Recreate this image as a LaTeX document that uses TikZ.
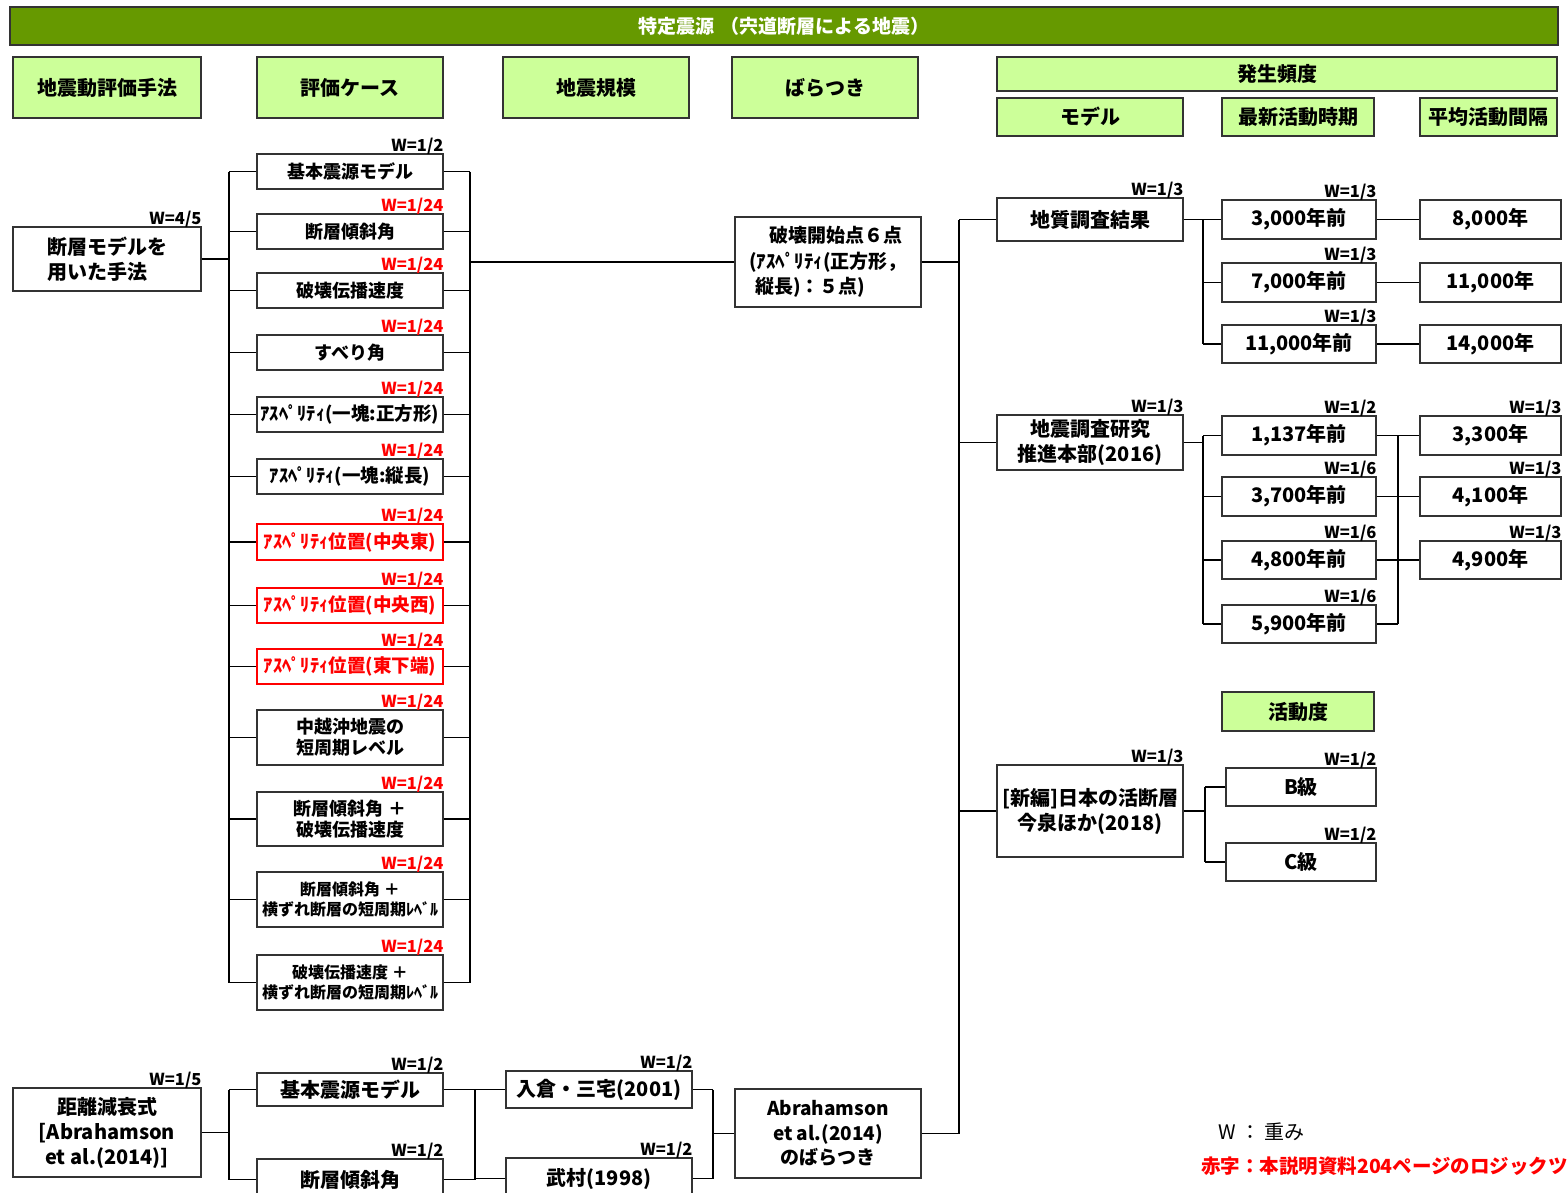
\documentclass[tikz,border=0pt]{standalone}
\usepackage{fontspec}
\setmainfont{Noto Sans CJK JP}
\definecolor{barg}{RGB}{102,153,0}
\definecolor{hdrg}{RGB}{204,255,153}
\newcommand\mybox[7]{\node[#1,minimum width={(#5-#3)*1pt},minimum height={(#6-#4)*1pt}] (#2) at ({(#3+#5)/2},{(#4+#6)/2}) {#7};}
\newcommand\wt[4]{\node[#1] (#2) at ([yshift=1.5pt]#3.north east) {#4};}
\tikzset{
 sbase/.style={draw=black!80, line width=1.2pt, inner sep=1pt, align=center},
 sbar/.style={sbase, fill=barg, text=white, font=\bfseries\fontsize{19}{22}\selectfont},
 shdr/.style={sbase, fill=hdrg, font=\bfseries\fontsize{20}{24}\selectfont},
 sbx/.style={sbase, fill=white, font=\bfseries\fontsize{18}{21}\selectfont},
 sbxl/.style={sbase, fill=white, font=\bfseries\fontsize{20}{25}\selectfont},
 srbx/.style={sbx, draw=red, text=red},
 sasp/.style={font=\bfseries\fontsize{18.5}{21}\selectfont},
 sbxs/.style={sbase, fill=white, font=\bfseries\fontsize{16}{20}\selectfont},
 swl/.style={anchor=base east, inner sep=0pt, font=\bfseries\fontsize{16.5}{18}\selectfont},
 swr/.style={swl, text=red},
 conn/.style={line width=1.5pt, black},
}
\begin{document}
\begin{tikzpicture}[x=1pt,y=-1pt]
\useasboundingbox (0,0) rectangle (1568,1192);
\clip (0,0) rectangle (1568,1192);
% title and headers
\mybox{sbar}{title}{10}{7}{1558}{45}{特定震源\hspace{6pt}（宍道断層による地震）}
\mybox{shdr}{h1}{13}{57}{201}{118}{地震動評価手法}
\mybox{shdr}{h2}{257}{57}{443}{118}{評価ケース}
\mybox{shdr}{h3}{503}{57}{689}{118}{地震規模}
\mybox{shdr}{h4}{732}{57}{918}{118}{ばらつき}
\mybox{shdr}{h5}{997}{57}{1557}{91}{発生頻度}
\mybox{shdr}{h6}{997}{98}{1183}{136}{モデル}
\mybox{shdr}{h7}{1222}{98}{1374}{136}{最新活動時期}
\mybox{shdr}{h8}{1420}{98}{1557}{136}{平均活動間隔}
\mybox{shdr}{h9}{1222}{692}{1374}{731}{活動度}
% left method
\mybox{sbxl,align=left}{m1}{13}{227}{201}{291}{断層モデルを\\用いた手法}
\wt{swl}{wm1}{m1}{W=4/5}
% cases
\mybox{sbx}{c1}{257}{154}{443}{189}{基本震源モデル}
\mybox{sbx}{c2}{257}{214}{443}{249}{断層傾斜角}
\mybox{sbx}{c3}{257}{273}{443}{308}{破壊伝播速度}
\mybox{sbx}{c4}{257}{335}{443}{370}{すべり角}
\mybox{sbx,sasp}{c5}{257}{397}{443}{432}{ｱｽﾍﾟﾘﾃｨ(一塊:正方形)}
\mybox{sbx,sasp}{c6}{257}{459}{443}{494}{ｱｽﾍﾟﾘﾃｨ(一塊:縦長)}
\mybox{srbx,sasp}{c7}{257}{524}{443}{560}{ｱｽﾍﾟﾘﾃｨ位置(中央東)}
\mybox{srbx,sasp}{c8}{257}{588}{443}{623}{ｱｽﾍﾟﾘﾃｨ位置(中央西)}
\mybox{srbx,sasp}{c9}{257}{649}{443}{684}{ｱｽﾍﾟﾘﾃｨ位置(東下端)}
\mybox{sbx}{c10}{257}{710}{443}{765}{中越沖地震の\\短周期レベル}
\mybox{sbx}{c11}{257}{792}{443}{846}{断層傾斜角 ＋\\破壊伝播速度}
\mybox{sbxs}{c12}{257}{872}{443}{927}{断層傾斜角 ＋\\横ずれ断層の短周期ﾚﾍﾞﾙ}
\mybox{sbxs}{c13}{257}{955}{443}{1010}{破壊伝播速度 ＋\\横ずれ断層の短周期ﾚﾍﾞﾙ}
\wt{swl}{wc1}{c1}{W=1/2}
\foreach \i in {2,...,13}{\wt{swr}{wc\i}{c\i}{W=1/24}}
% rupture start
\mybox{sbase,fill=white,font=\bfseries\fontsize{19}{25.5}\selectfont,align=left}{b1}{735}{217}{921}{307}{\hspace{20pt}破壊開始点６点\\(ｱｽﾍﾟﾘﾃｨ(正方形，\\\hspace{6pt}縦長)：５点)}
% models
\mybox{sbxl}{r1}{997}{198}{1183}{241}{地質調査結果}
\mybox{sbxl}{r2}{997}{415}{1183}{470}{地震調査研究\\推進本部(2016)}
\mybox{sbxl}{r3}{997}{765}{1183}{857}{[新編]日本の活断層\\今泉ほか(2018)}
\wt{swl}{wr1}{r1}{W=1/3}
\wt{swl}{wr2}{r2}{W=1/3}
\wt{swl}{wr3}{r3}{W=1/3}
% latest activity
\mybox{sbxl}{t1}{1222}{200}{1376}{239}{3,000年前}
\mybox{sbxl}{t2}{1222}{263}{1376}{302}{7,000年前}
\mybox{sbxl}{t3}{1222}{325}{1376}{363}{11,000年前}
\mybox{sbxl}{t4}{1222}{416}{1376}{455}{1,137年前}
\mybox{sbxl}{t5}{1222}{477}{1376}{516}{3,700年前}
\mybox{sbxl}{t6}{1222}{541}{1376}{579}{4,800年前}
\mybox{sbxl}{t7}{1222}{605}{1376}{643}{5,900年前}
\wt{swl}{wt1}{t1}{W=1/3}
\wt{swl}{wt2}{t2}{W=1/3}
\wt{swl}{wt3}{t3}{W=1/3}
\wt{swl}{wt4}{t4}{W=1/2}
\wt{swl}{wt5}{t5}{W=1/6}
\wt{swl}{wt6}{t6}{W=1/6}
\wt{swl}{wt7}{t7}{W=1/6}
% intervals
\mybox{sbxl}{a1}{1420}{200}{1561}{239}{8,000年}
\mybox{sbxl}{a2}{1420}{263}{1561}{302}{11,000年}
\mybox{sbxl}{a3}{1420}{325}{1561}{363}{14,000年}
\mybox{sbxl}{a4}{1420}{416}{1561}{455}{3,300年}
\mybox{sbxl}{a5}{1420}{477}{1561}{516}{4,100年}
\mybox{sbxl}{a6}{1420}{541}{1561}{579}{4,900年}
\wt{swl}{wa4}{a4}{W=1/3}
\wt{swl}{wa5}{a5}{W=1/3}
\wt{swl}{wa6}{a6}{W=1/3}
% activity class
\mybox{sbxl}{k1}{1226}{768}{1376}{806}{B級}
\mybox{sbxl}{k2}{1226}{843}{1376}{881}{C級}
\wt{swl}{wk1}{k1}{W=1/2}
\wt{swl}{wk2}{k2}{W=1/2}
% bottom branch
\mybox{sbxl}{g1}{13}{1088}{201}{1177}{距離減衰式\\{[}Abrahamson\\ et al.(2014)]}
\mybox{sbxl}{g2}{257}{1073}{443}{1106}{基本震源モデル}
\mybox{sbxl}{g3}{257}{1159}{443}{1200}{断層傾斜角}
\mybox{sbxl}{g4}{506}{1071}{692}{1108}{入倉・三宅(2001)}
\mybox{sbxl}{g5}{506}{1158}{692}{1199}{武村(1998)}
\mybox{sbase,fill=white,font=\bfseries\fontsize{19}{24.5}\selectfont}{g6}{735}{1089}{921}{1178}{Abrahamson\\et al.(2014)\\のばらつき}
\wt{swl}{wg1}{g1}{W=1/5}
\wt{swl}{wg2}{g2}{W=1/2}
\wt{swl}{wg3}{g3}{W=1/2}
\wt{swl}{wg4}{g4}{W=1/2}
\wt{swl}{wg5}{g5}{W=1/2}
% legend
\node[anchor=west, font=\fontsize{20}{24}\selectfont, inner sep=0pt] (leg1) at (1218,1132) {W ： 重み};
\node[anchor=west, text=red, font=\bfseries\fontsize{19.5}{24}\selectfont, inner sep=0pt] (leg2) at (1201,1166) {赤字：本説明資料204ページのロジックツ};
% bus coordinates
\coordinate (busL) at (229,0);
\coordinate (busR) at (470,0);
\coordinate (busM) at (959,0);
\coordinate (busA) at (1203,0);
\coordinate (busB) at (1398,0);
\coordinate (busC) at (1205,0);
\coordinate (busG2) at (475,0);
\coordinate (busG3) at (713,0);
% connectors: cases
\draw[conn] (m1.east) -- (m1.east -| busL);
\foreach \i in {1,...,13}{
 \draw[conn] (c\i.west) -- (c\i.west -| busL);
 \draw[conn] (c\i.east) -- (c\i.east -| busR);
}
\draw[conn] (c1.west -| busL) -- (c13.west -| busL);
\draw[conn] (c1.east -| busR) -- (c13.east -| busR);
\draw[conn] (b1.west -| busR) -- (b1.west);
\draw[conn] (b1.east) -- (b1.east -| busM);
% model bus
\draw[conn] (r1.west) -- (r1.west -| busM);
\draw[conn] (r2.west) -- (r2.west -| busM);
\draw[conn] (r3.west) -- (r3.west -| busM);
\draw[conn] (g6.east) -- (g6.east -| busM);
\draw[conn] (r1.west -| busM) -- (g6.east -| busM);
% group A
\draw[conn] (r1.east) -- (r1.east -| busA);
\foreach \i in {1,2,3}{\draw[conn] (t\i.west) -- (t\i.west -| busA);}
\draw[conn] (t1.west -| busA) -- (t3.west -| busA);
\draw[conn] (t1.east) -- (a1.west);
\draw[conn] (t2.east) -- (a2.west);
\draw[conn] (t3.east) -- (a3.west);
% group B
\draw[conn] (r2.east) -- (r2.east -| busA);
\foreach \i in {4,5,6,7}{
 \draw[conn] (t\i.west) -- (t\i.west -| busA);
 \draw[conn] (t\i.east) -- (t\i.east -| busB);
}
\draw[conn] (t4.west -| busA) -- (t7.west -| busA);
\draw[conn] (t4.east -| busB) -- (t7.east -| busB);
\foreach \i in {4,5,6}{\draw[conn] (a\i.west -| busB) -- (a\i.west);}
% group C
\draw[conn] (r3.east) -- (r3.east -| busC);
\draw[conn] (k1.west) -- (k1.west -| busC);
\draw[conn] (k2.west) -- (k2.west -| busC);
\draw[conn] (k1.west -| busC) -- (k2.west -| busC);
% bottom
\draw[conn] (g1.east) -- (g1.east -| busL);
\draw[conn] (g2.west) -- (g2.west -| busL);
\draw[conn] (g3.west) -- (g3.west -| busL);
\draw[conn] (g2.west -| busL) -- (g3.west -| busL);
\draw[conn] (g2.east) -- (g2.east -| busG2);
\draw[conn] (g3.east) -- (g3.east -| busG2);
\draw[conn] (g4.west) -- (g4.west -| busG2);
\draw[conn] (g5.west) -- (g5.west -| busG2);
\draw[conn] (g2.east -| busG2) -- (g3.east -| busG2);
\draw[conn] (g4.east) -- (g4.east -| busG3);
\draw[conn] (g5.east) -- (g5.east -| busG3);
\draw[conn] (g4.east -| busG3) -- (g5.east -| busG3);
\draw[conn] (g6.west -| busG3) -- (g6.west);
\end{tikzpicture}
\end{document}
